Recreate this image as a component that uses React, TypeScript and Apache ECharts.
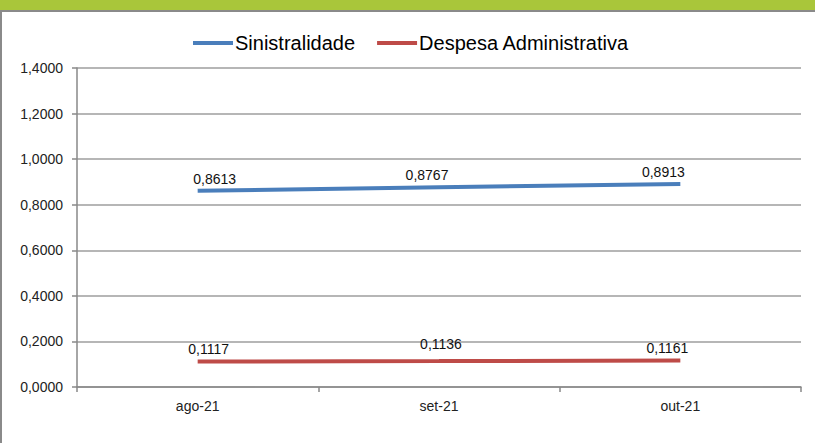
import React, { useEffect, useRef } from "react";
import * as echarts from "echarts";

const categories = ["ago-21", "set-21", "out-21"];
const sinistralidade = [0.8613, 0.8767, 0.8913];
const despesaAdministrativa = [0.1117, 0.1136, 0.1161];
const seriesNames = ["Sinistralidade", "Despesa Administrativa"];

const fmt = (v: number) => v.toFixed(4).replace(".", ",");

export default function App() {
  const ref = useRef<HTMLDivElement>(null);
  useEffect(() => {
    if (!ref.current) return;
    const chart = echarts.init(ref.current, undefined, { renderer: "svg" });
    const font = "'Liberation Sans', Arial, sans-serif";
    const labelBase = {
      show: true,
      position: "top",
      fontSize: 14,
      color: "#111",
      fontFamily: font,
      formatter: (p: any) => fmt(p.value),
    };
    // label nudges (Excel-style label placement)
    const blueLabelOffsets = [[17, 0], [-12, 0], [-17, 0]];
    const redLabelOffsets = [[11, 0], [2, -4], [-13, 0]];
    chart.setOption({
      animation: false,
      backgroundColor: "#ffffff",
      textStyle: { fontFamily: font },
      graphic: [
        { type: "rect", shape: { x: 0, y: 0, width: 815, height: 10 }, style: { fill: "#A9C63A" } },
        { type: "rect", shape: { x: 0, y: 10, width: 815, height: 2 }, style: { fill: "#8a8a8a" } },
        { type: "rect", shape: { x: 0, y: 10, width: 2, height: 433 }, style: { fill: "#8a8a8a" } },
      ],
      legend: {
        left: 193,
        top: 33,
        padding: 0,
        icon: "rect",
        itemWidth: 40,
        itemHeight: 4,
        itemGap: 22,
        textStyle: { fontSize: 20, color: "#000", fontFamily: font, padding: [0, 0, 0, -3] },
        data: seriesNames,
      },
      grid: { left: 77, right: 14, top: 68, bottom: 56, containLabel: false },
      xAxis: {
        type: "category",
        data: categories,
        boundaryGap: true,
        axisLine: { lineStyle: { color: "#888", width: 1.5 } },
        axisTick: { show: true, length: 5, lineStyle: { color: "#888", width: 1.5 } },
        axisLabel: { fontSize: 14, color: "#222", margin: 12, fontFamily: font },
      },
      yAxis: {
        type: "value",
        min: 0,
        max: 1.4,
        interval: 0.2,
        axisLine: { show: true, lineStyle: { color: "#888", width: 1.5 } },
        axisTick: { show: true, length: 5, lineStyle: { color: "#888", width: 1.5 } },
        axisLabel: { fontSize: 14, color: "#222", margin: 14, formatter: (v: number) => fmt(v), fontFamily: font },
        splitLine: { show: true, lineStyle: { color: "#9e9e9e", width: 1.5 } },
      },
      series: [
        {
          name: seriesNames[0],
          type: "line",
          data: sinistralidade.map((v, i) => ({ value: v, label: { offset: blueLabelOffsets[i] } })),
          symbol: "circle",
          symbolSize: 0,
          showSymbol: true,
          lineStyle: { color: "#4A7EBB", width: 4 },
          itemStyle: { color: "#4A7EBB" },
          label: { ...labelBase, distance: 5 },
        },
        {
          name: seriesNames[1],
          type: "line",
          data: despesaAdministrativa.map((v, i) => ({ value: v, label: { offset: redLabelOffsets[i] } })),
          symbol: "circle",
          symbolSize: 0,
          showSymbol: true,
          lineStyle: { color: "#BE4B48", width: 4 },
          itemStyle: { color: "#BE4B48" },
          label: { ...labelBase, distance: 6 },
        },
      ],
    });
    return () => chart.dispose();
  }, []);
  return (
    <div style={{ position: "fixed", left: 0, top: 0 }}>
      <div ref={ref} style={{ width: 815, height: 443 }} />
    </div>
  );
}
